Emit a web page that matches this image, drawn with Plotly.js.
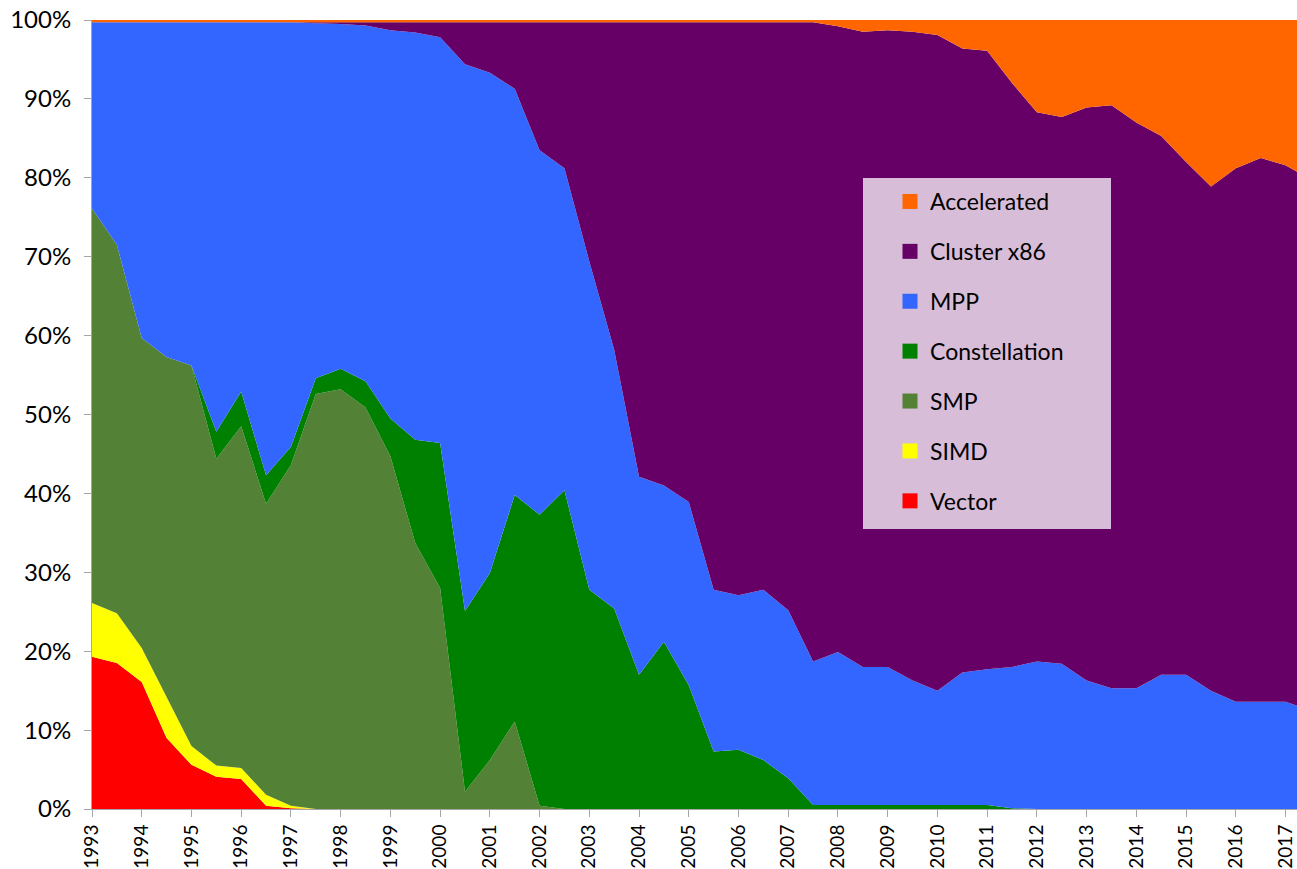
<!DOCTYPE html>
<html>
<head>
<meta charset="utf-8">
<script src="https://cdn.plot.ly/plotly-3.0.1.min.js"></script>
<style>html,body{margin:0;padding:0;background:#fff;}#chart{width:1297px;height:869px;}</style>
</head>
<body>
<div id="chart"></div>
<script>
const years = [1993,1993.5,1994,1994.5,1995,1995.5,1996,1996.5,1997,1997.5,1998,1998.5,1999,1999.5,2000,2000.5,2001,2001.5,2002,2002.5,2003,2003.5,2004,2004.5,2005,2005.5,2006,2006.5,2007,2007.5,2008,2008.5,2009,2009.5,2010,2010.5,2011,2011.5,2012,2012.5,2013,2013.5,2014,2014.5,2015,2015.5,2016,2016.5,2017,2017.5];

const vector = [19.3,18.5,16.1,9.0,5.6,4.1,3.8,0.4,0.1,0,0,0,0,0,0,0,0,0,0,0,0,0,0,0,0,0,0,0,0,0,0,0,0,0,0,0,0,0,0,0,0,0,0,0,0,0,0,0,0,0];
const simd = [6.8,6.3,4.3,5.2,2.4,1.4,1.4,1.4,0.3,0,0,0,0,0,0,0,0,0,0,0,0,0,0,0,0,0,0,0,0,0,0,0,0,0,0,0,0,0,0,0,0,0,0,0,0,0,0,0,0,0];
const smp = [50.0,46.7,39.3,43.1,48.2,38.9,43.3,36.9,43.2,52.6,53.2,50.9,44.7,33.7,28.0,2.2,6.2,11.1,0.4,0,0,0,0,0,0,0,0,0,0,0,0,0,0,0,0,0,0,0,0,0,0,0,0,0,0,0,0,0,0,0];
const constellation = [0,0,0,0,0,3.4,4.4,3.6,2.3,2.0,2.6,3.3,4.8,13.1,18.4,22.9,23.7,28.7,36.9,40.4,27.8,25.4,17.0,21.2,15.7,7.3,7.5,6.2,3.9,0.5,0.5,0.5,0.5,0.5,0.5,0.5,0.5,0.1,0,0,0,0,0,0,0,0,0,0,0,0];
const mpp = [23.6,28.2,40.0,42.4,43.5,51.9,46.8,57.4,53.8,45.0,43.7,45.1,49.2,51.6,51.4,69.3,63.4,51.5,46.2,40.8,41.6,32.8,25.1,19.8,23.2,20.5,19.6,21.6,21.3,18.2,19.4,17.5,17.5,15.8,14.5,16.8,17.2,17.9,18.7,18.4,16.3,15.3,15.3,17.0,17.0,15.0,13.6,13.6,13.6,12.5];
const cluster = [0,0,0,0,0,0,0,0,0,0.1,0.2,0.4,1.0,1.3,1.9,5.3,6.4,8.4,16.2,18.5,30.3,41.5,57.6,58.7,60.8,71.9,72.6,71.9,74.5,81.0,79.3,80.5,80.7,82.2,83.1,79.1,78.4,74.0,69.6,69.3,72.6,73.9,71.7,68.3,65.0,63.9,67.6,68.9,68.0,67.3];
const accelerated = [0.3,0.3,0.3,0.3,0.3,0.3,0.3,0.3,0.3,0.3,0.3,0.3,0.3,0.3,0.3,0.3,0.3,0.3,0.3,0.3,0.3,0.3,0.3,0.3,0.3,0.3,0.3,0.3,0.3,0.3,0.8,1.5,1.3,1.5,1.9,3.6,3.9,8.0,11.7,12.3,11.1,10.8,13.0,14.7,18.0,21.1,18.8,17.5,18.4,20.2];

const seriesNames = ["Vector","SIMD","SMP","Constellation","MPP","Cluster x86","Accelerated"];
const seriesValues = [vector, simd, smp, constellation, mpp, cluster, accelerated];
const seriesColors = ["#FF0000","#FFFF00","#538135","#008000","#3366FF","#660066","#FF6600"];
const tickYears = [1993,1994,1995,1996,1997,1998,1999,2000,2001,2002,2003,2004,2005,2006,2007,2008,2009,2010,2011,2012,2013,2014,2015,2016,2017];

const FONT = "Lato, 'Open Sans', sans-serif";
const traces = [];
seriesNames.forEach((name, i) => {
  traces.push({
    type: "scatter", mode: "lines", x: years, y: seriesValues[i], name: name,
    stackgroup: "one", groupnorm: "percent",
    line: {width: 0, color: seriesColors[i]}, fillcolor: seriesColors[i],
    showlegend: false, hoverinfo: "skip"
  });
});
// legend entries (top to bottom: Accelerated ... Vector)
for (let i = seriesNames.length - 1; i >= 0; i--) {
  traces.push({
    type: "scatter", mode: "markers", x: [null], y: [null], name: seriesNames[i],
    legendgroup: "g" + i,
    marker: {symbol: "square", size: 15, color: seriesColors[i]},
    showlegend: true, hoverinfo: "skip"
  });
}

const L = 92, T = 20, W = 1297, H = 869, B = 60;
const pw = W - L, ph = H - T - B;
const px = v => (v - L) / pw;
const py = v => (H - B - v) / ph;

const layout = {
  width: W, height: H,
  margin: {l: L, r: 0, t: T, b: B, pad: 0},
  paper_bgcolor: "#ffffff", plot_bgcolor: "#ffffff",
  font: {family: FONT, color: "#000"},
  xaxis: {
    range: [1993, 2017.23], tickvals: tickYears, ticktext: tickYears.map(String),
    tickangle: -90, tickfont: {size: 19, family: FONT},
    showgrid: false, zeroline: false, showline: true, linecolor: "#A6A6A6", linewidth: 1,
    ticks: "outside", ticklen: 7, tickcolor: "#A6A6A6"
  },
  yaxis: {
    range: [0, 100], dtick: 10, ticksuffix: "%",
    tickfont: {size: 24, family: FONT},
    showgrid: false, zeroline: false, showline: true, linecolor: "#A6A6A6", linewidth: 1,
    ticks: "outside", ticklen: 7, tickcolor: "#A6A6A6", ticklabelstandoff: 8
  },
  shapes: [{
    type: "rect", xref: "paper", yref: "paper", layer: "above",
    x0: px(863), x1: px(1111), y0: py(529), y1: py(178),
    fillcolor: "#D8BDD8", line: {width: 0}
  }],
  showlegend: true,
  legend: {
    x: px(890), y: py(180), xanchor: "left", yanchor: "top",
    bgcolor: "rgba(0,0,0,0)", borderwidth: 0,
    traceorder: "grouped", tracegroupgap: 17,
    font: {size: 23, family: FONT, color: "#000"}
  },
  hovermode: false
};

Plotly.newPlot("chart", traces, layout, {displayModeBar: false, staticPlot: true});
</script>
</body>
</html>
